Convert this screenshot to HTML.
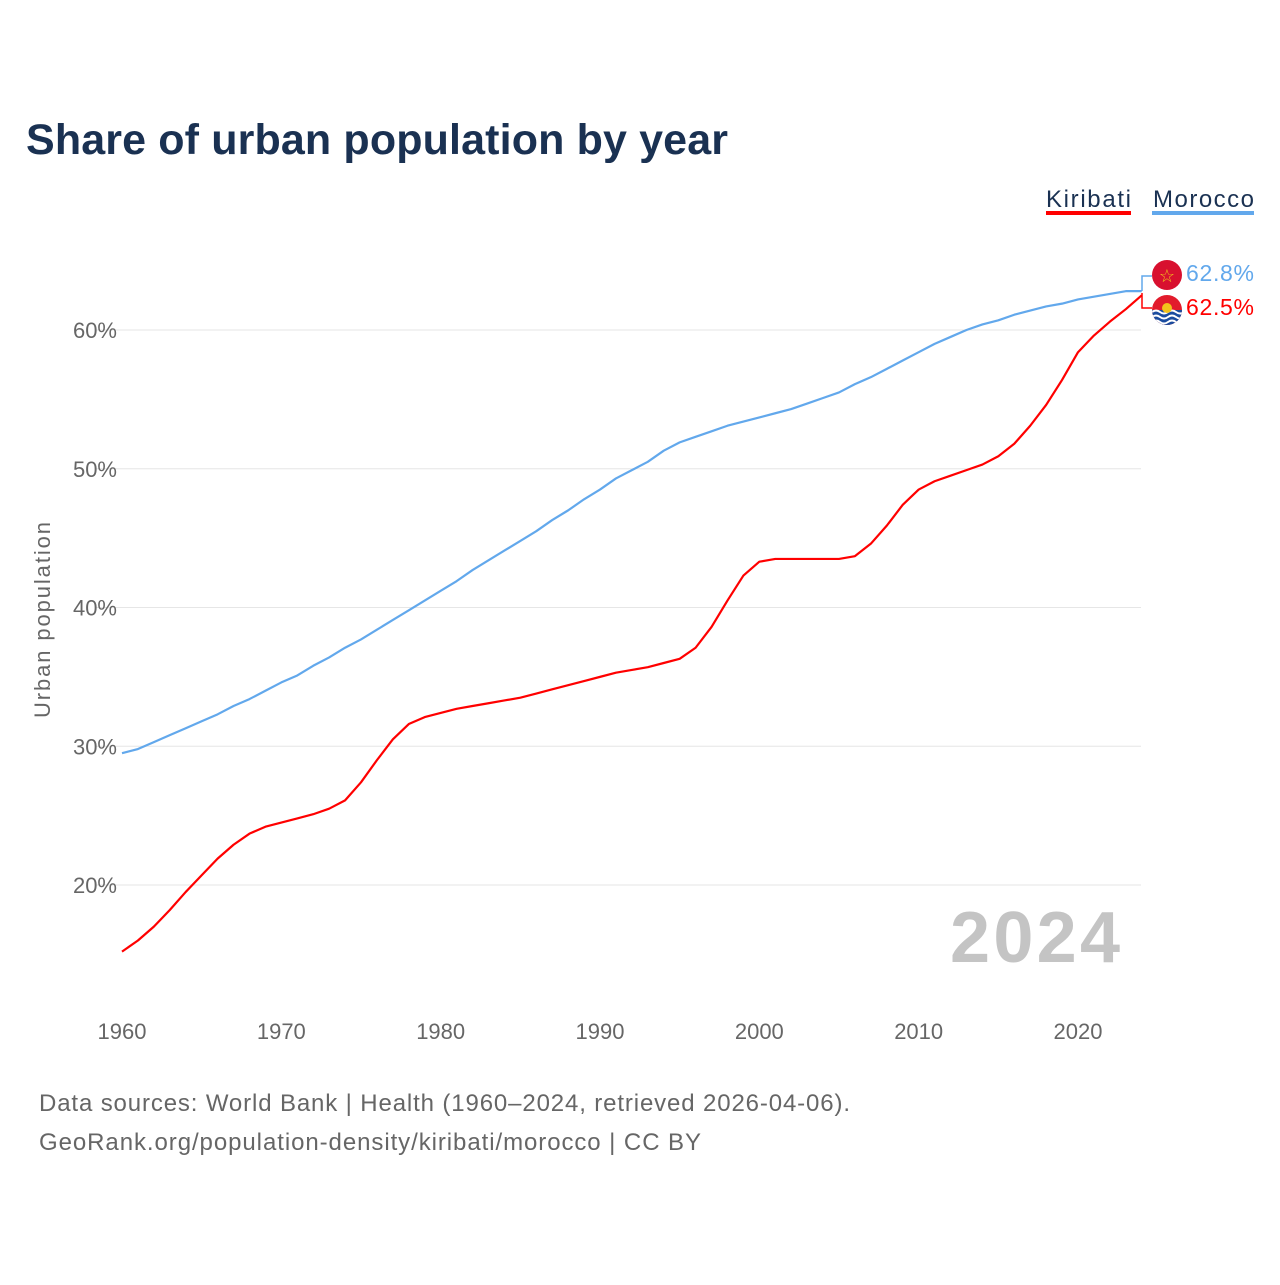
<!DOCTYPE html>
<html><head><meta charset="utf-8"><style>
body{margin:0;background:#fff;font-family:"Liberation Sans",sans-serif;}
</style></head><body>
<svg width="1280" height="1280" viewBox="0 0 1280 1280" id="chart" style="font-family:'Liberation Sans',sans-serif">
<text x="26" y="154" font-size="43" font-weight="bold" fill="#1a3152" textLength="702">Share of urban population by year</text>
<g>
<text x="1131" y="207" font-size="24" fill="#1a3152" text-anchor="end" textLength="85">Kiribati</text>
<rect x="1046" y="211" width="85" height="4" fill="#ff0000"/>
<text x="1254" y="207" font-size="24" fill="#1a3152" text-anchor="end" textLength="101">Morocco</text>
<rect x="1152" y="211" width="102" height="4" fill="#62a8ec"/>
</g>
<g id="grid"></g>
<g id="xt"></g>
<g id="lines"></g>
<text transform="translate(50,620) rotate(-90)" font-size="22" fill="#666" text-anchor="middle" textLength="196">Urban population</text>
<text x="1120" y="962" font-size="72" font-weight="bold" fill="#c4c4c4" text-anchor="end" textLength="170">2024</text>
<text x="39" y="1111" font-size="24" fill="#666" textLength="811">Data sources: World Bank | Health (1960–2024, retrieved 2026-04-06).</text>
<text x="39" y="1150" font-size="24" fill="#666" textLength="662">GeoRank.org/population-density/kiribati/morocco | CC BY</text>
<g>
<polyline points="1142,291 1142,276 1152,276" fill="none" stroke="#62a8ec" stroke-width="1.5"/>
<polyline points="1142,293 1142,308 1152,308" fill="none" stroke="#ff0000" stroke-width="1.5"/>
<circle cx="1167" cy="275" r="15" fill="#d8102f"/>
<text x="1167" y="282" font-size="18" fill="#f2c21b" text-anchor="middle">☆</text>
<g>
<clipPath id="kc"><circle cx="1167" cy="310" r="15"/></clipPath>
<g clip-path="url(#kc)"><rect x="1150" y="294" width="34" height="34" fill="#e21b2c"/><rect x="1150" y="310" width="34" height="18" fill="#1b4c9e"/>
<path d="M1152 312 q4 -3 8 0 q4 3 8 0 q4 -3 8 0 q4 3 8 0 M1152 317 q4 -3 8 0 q4 3 8 0 q4 -3 8 0 q4 3 8 0 M1152 322 q4 -3 8 0 q4 3 8 0 q4 -3 8 0 q4 3 8 0" stroke="#fff" stroke-width="2" fill="none"/>
<circle cx="1167" cy="308" r="5" fill="#f2c21b"/></g></g>
<text x="1186" y="281" font-size="23" fill="#62a8ec" textLength="68">62.8%</text>
<text x="1186" y="315" font-size="23" fill="#ff0000" textLength="68">62.5%</text>
</g>
</svg>
<script>
const years=[];for(let y=1960;y<=2024;y++)years.push(y);
const morocco=[29.5,29.8,30.3,30.8,31.3,31.8,32.3,32.9,33.4,34.0,34.6,35.1,35.8,36.4,37.1,37.7,38.4,39.1,39.8,40.5,41.2,41.9,42.7,43.4,44.1,44.8,45.5,46.3,47.0,47.8,48.5,49.3,49.9,50.5,51.3,51.9,52.3,52.7,53.1,53.4,53.7,54.0,54.3,54.7,55.1,55.5,56.1,56.6,57.2,57.8,58.4,59.0,59.5,60.0,60.4,60.7,61.1,61.4,61.7,61.9,62.2,62.4,62.6,62.8,62.8];
const kiribati=[15.2,16.0,17.0,18.2,19.5,20.7,21.9,22.9,23.7,24.2,24.5,24.8,25.1,25.5,26.1,27.4,29.0,30.5,31.6,32.1,32.4,32.7,32.9,33.1,33.3,33.5,33.8,34.1,34.4,34.7,35.0,35.3,35.5,35.7,36.0,36.3,37.1,38.6,40.5,42.3,43.3,43.5,43.5,43.5,43.5,43.5,43.7,44.6,45.9,47.4,48.5,49.1,49.5,49.9,50.3,50.9,51.8,53.1,54.6,56.4,58.4,59.6,60.6,61.5,62.5];
const yTicks=[20,30,40,50,60];
const xTicks=[1960,1970,1980,1990,2000,2010,2020];
const X=y=>122+(y-1960)*956/60;
const Y=v=>885-(v-20)*13.875;
const NS="http://www.w3.org/2000/svg";
function mk(t,a,p){const e=document.createElementNS(NS,t);for(const k in a)e.setAttribute(k,a[k]);document.getElementById(p).appendChild(e);return e;}
yTicks.forEach(v=>{
 const l=mk('line',{x1:95,x2:1141,y1:Y(v),y2:Y(v),stroke:'#e6e6e6','stroke-width':1},'grid');
 
 
 const t=mk('text',{x:117,y:Y(v)+8,'font-size':22,fill:'#666','text-anchor':'end'},'grid');
 t.textContent=v+'%';
 
 
});
xTicks.forEach(v=>{
 const t=mk('text',{x:X(v),y:1039,'font-size':22,fill:'#666','text-anchor':'middle'},'xt');
 t.textContent=v;
 
 
});
function line(vals,c,n){
 const p=mk('polyline',{points:vals.map((v,i)=>X(years[i])+','+Y(v)).join(' '),fill:'none',stroke:c,'stroke-width':2.2,'stroke-linejoin':'round'},'lines');
 
 
}
line(morocco,'#62a8ec','morocco-line');
line(kiribati,'#ff0000','kiribati-line');
</script>
</body></html>
